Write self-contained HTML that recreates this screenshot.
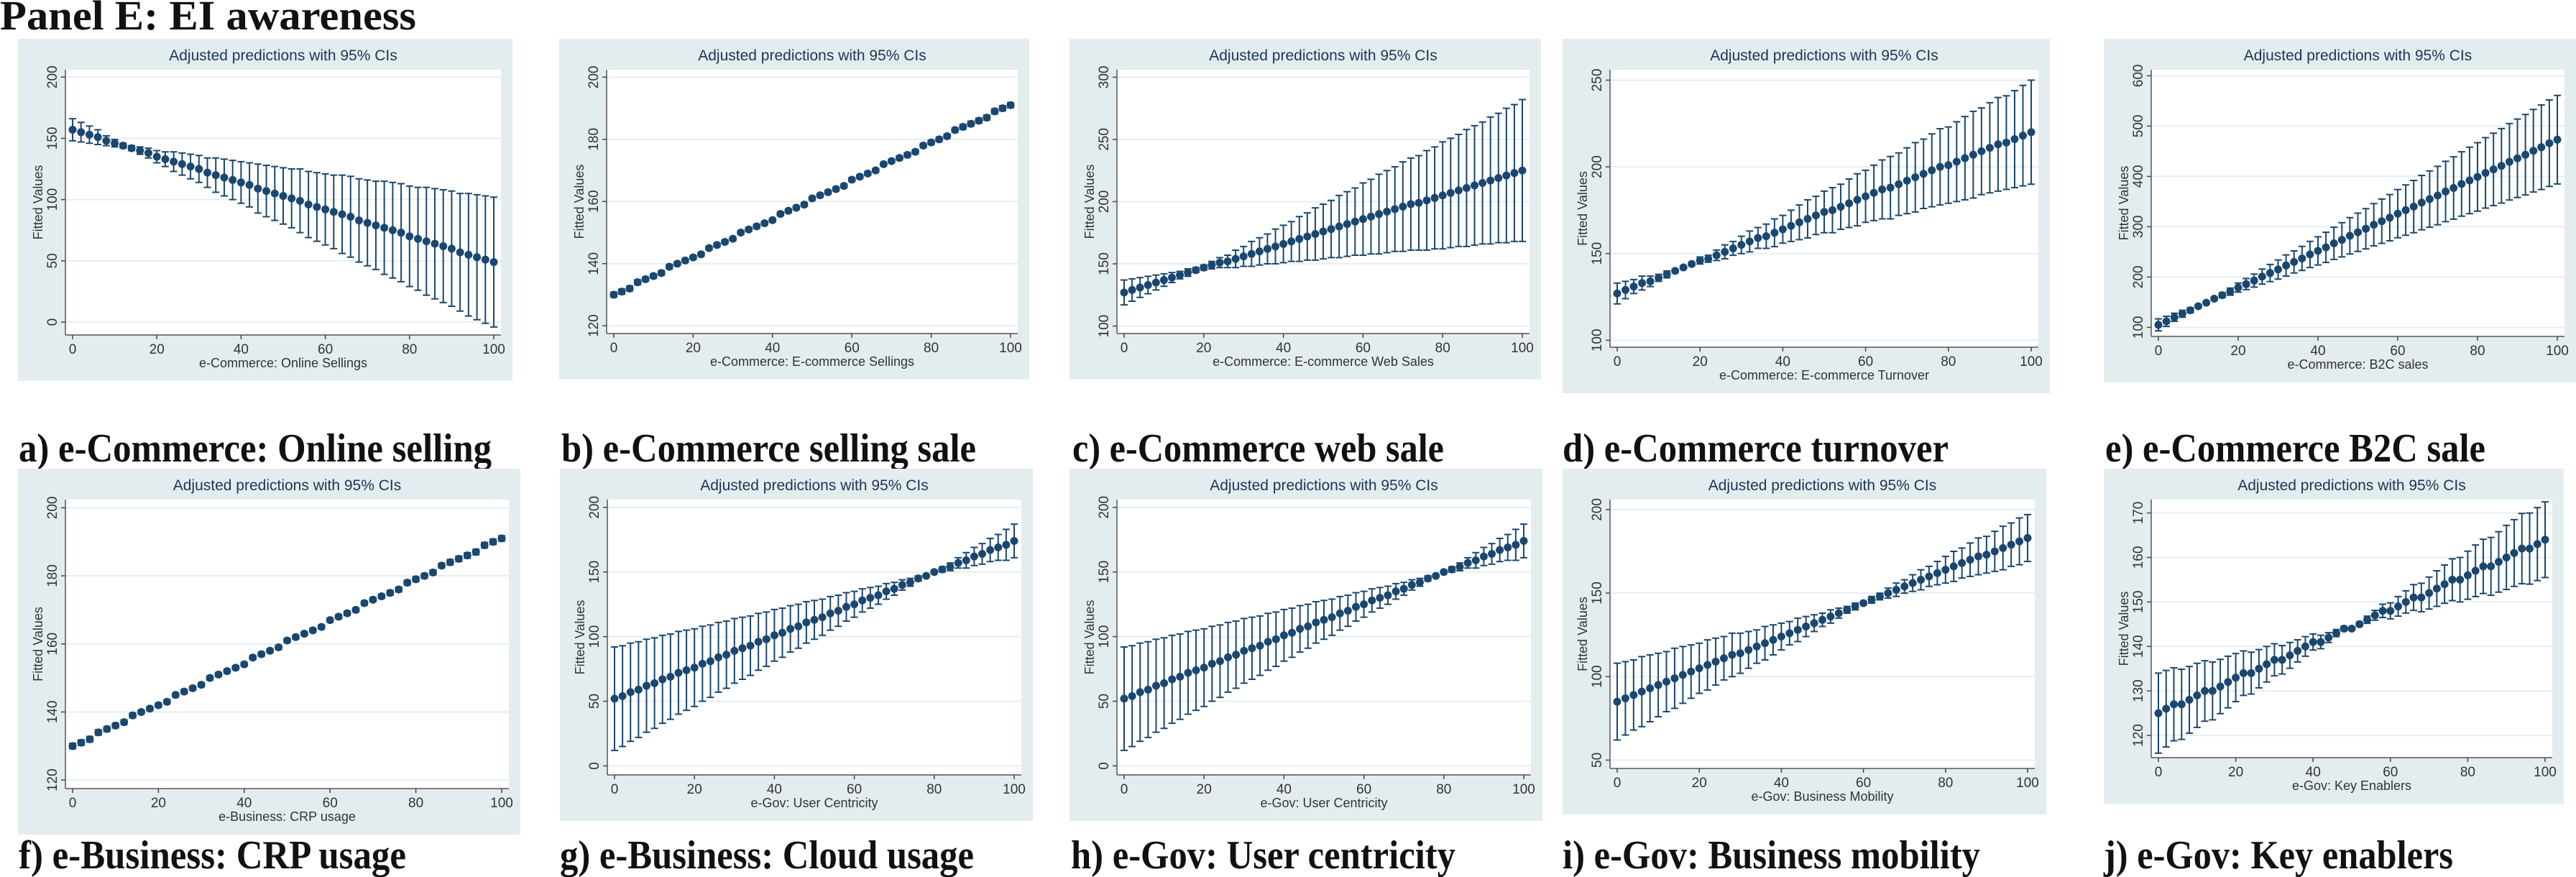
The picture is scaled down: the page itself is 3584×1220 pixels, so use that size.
<!DOCTYPE html>
<html><head><meta charset="utf-8"><title>Panel E: EI awareness</title>
<style>
html,body{margin:0;padding:0;background:#fff;}
svg{display:block;}
.cap{font-family:"Liberation Serif",serif;font-weight:bold;fill:#111;}
.ttl{font-family:"Liberation Sans",sans-serif;fill:#1f3554;}
.tk{font-family:"Liberation Sans",sans-serif;fill:#333;}
</style></head>
<body>
<svg id="fig" xmlns="http://www.w3.org/2000/svg" width="3584" height="1220" viewBox="0 0 3584 1220">
<text class="cap" x="0" y="41" font-size="58" textLength="579" lengthAdjust="spacingAndGlyphs">Panel E: EI awareness</text>
</svg>
<script>
// x values shared by all panels
const xVals = [0,2,4,6,8,10,12,14,16,18,20,22,24,26,28,30,32,34,36,38,40,42,44,46,48,50,52,54,56,58,60,62,64,66,68,70,72,74,76,78,80,82,84,86,88,90,92,94,96,98,100];
const xTicks = [0,20,40,60,80,100];

// a) online selling
const fitA = [157,155,153,151,148,146,144,142,140,138,135,133,131,129,127,125,122,120,118,116,114,112,109,107,105,103,101,99,96,94,92,90,88,86,83,81,79,77,75,73,70,68,66,64,62,60,57,55,53,51,49];
const ciA = [9,8,7,6,4,3,2,2,3,4,5,6,8,9,10,11,12,14,15,16,17,18,20,21,22,23,24,26,27,28,29,30,32,33,34,35,36,38,39,40,41,42,44,45,46,47,48,50,51,52,53];
const ticksA = [0,50,100,150,200];
// b) selling sale
const fitB = [130,131,132,134,135,136,137,139,140,141,142,143,145,146,147,148,150,151,152,153,154,156,157,158,159,161,162,163,164,165,167,168,169,170,172,173,174,175,176,178,179,180,181,183,184,185,186,187,189,190,191];
const ciB = [0.8,0.8,0.8,0.8,0.7,0.7,0.7,0.7,0.6,0.6,0.6,0.6,0.6,0.6,0.6,0.6,0.6,0.6,0.6,0.6,0.6,0.6,0.6,0.6,0.6,0.6,0.6,0.6,0.6,0.6,0.6,0.6,0.6,0.6,0.6,0.6,0.6,0.7,0.7,0.7,0.7,0.7,0.7,0.7,0.8,0.8,0.8,0.8,0.8,0.8,0.8];
const ticksB = [120,140,160,180,200];
// c) web sale
const fitC = [127,129,131,133,135,137,139,141,143,145,147,149,151,152,154,156,158,160,162,164,166,168,170,172,174,176,178,180,182,184,186,188,190,192,194,196,198,199,201,203,205,207,209,211,213,215,217,219,221,223,225];
const ciC = [10,9,8,7,6,5,4,3,3,2,2,3,4,5,7,8,10,11,12,14,15,16,18,19,21,22,23,25,26,27,29,30,32,33,34,36,37,38,40,41,43,44,45,47,48,49,51,52,54,55,57];
const ticksC = [100,150,200,250,300];
// d) turnover
const fitD = [127,129,131,133,134,136,138,140,142,144,146,147,149,151,153,155,157,159,160,162,164,166,168,170,172,174,175,177,179,181,183,185,187,188,190,192,194,196,198,200,201,203,205,207,209,211,213,214,216,218,220];
const ciD = [6,5,4,4,3,2,2,1,1,1,2,2,3,4,4,5,6,6,7,8,8,9,10,11,11,12,13,13,14,15,15,16,17,18,18,19,20,20,21,22,22,23,24,25,25,26,27,27,28,29,30];
const ticksD = [100,150,200,250];
// e) B2C sale
const fitE = [105,112,120,127,134,142,149,157,164,171,179,186,193,201,208,215,223,230,237,245,252,259,267,274,282,289,296,304,311,318,326,333,340,348,355,362,370,377,385,392,399,407,414,421,429,436,443,451,458,466,473];
const ciE = [12,10,8,7,5,3,2,3,5,7,9,11,13,15,17,19,21,22,24,26,28,30,32,34,36,38,40,42,44,46,48,50,52,54,56,58,60,62,64,66,68,70,72,74,76,78,80,82,84,86,88];
const ticksE = [100,200,300,400,500,600];
// f) CRP usage
const fitF = [130,131,132,134,135,136,137,139,140,141,142,143,145,146,147,148,150,151,152,153,154,156,157,158,159,161,162,163,164,165,167,168,169,170,172,173,174,175,176,178,179,180,181,183,184,185,186,187,189,190,191];
const ciF = [0.8,0.8,0.8,0.8,0.7,0.7,0.7,0.7,0.6,0.6,0.6,0.6,0.6,0.6,0.6,0.6,0.6,0.6,0.6,0.6,0.6,0.6,0.6,0.6,0.6,0.6,0.6,0.6,0.6,0.6,0.6,0.6,0.6,0.6,0.6,0.6,0.6,0.7,0.7,0.7,0.7,0.7,0.7,0.7,0.8,0.8,0.8,0.8,0.8,0.8,0.8];
const ticksF = [120,140,160,180,200];
// g) cloud usage
const fitG = [52,54,57,59,62,64,67,69,72,74,76,79,81,84,86,89,91,93,96,98,101,103,106,108,111,113,115,118,120,123,125,128,130,132,135,137,140,142,145,147,150,152,154,157,159,162,164,167,169,171,174];
const ciG = [40,39,38,37,36,35,34,33,32,31,30,29,28,27,26,25,24,23,22,21,20,19,18,17,16,15,14,13,12,11,10,9,8,7,6,5,4,3,2,1,1,2,3,4,6,7,8,9,10,12,13];
const ticksG = [0,50,100,150,200];
// h) user centricity
const fitH = [52,54,57,59,62,64,67,69,72,74,76,79,81,84,86,89,91,93,96,98,101,103,106,108,111,113,115,118,120,123,125,128,130,132,135,137,140,142,145,147,150,152,154,157,159,162,164,167,169,171,174];
const ciH = [40,39,38,37,36,35,34,33,32,31,30,29,28,27,26,25,24,23,22,21,20,19,18,17,16,15,14,13,12,11,10,9,8,7,6,5,4,3,2,1,1,2,3,4,6,7,8,9,10,12,13];
const ticksH = [0,50,100,150,200];
// i) business mobility
const fitI = [85,87,89,91,93,95,97,99,101,103,105,107,109,111,113,114,116,118,120,122,124,126,128,130,132,134,136,138,140,142,144,146,148,150,152,154,156,158,160,162,164,166,168,170,172,173,175,177,179,181,183];
const ciI = [23,22,21,21,20,19,18,18,17,16,15,15,14,13,13,12,11,10,10,9,8,7,7,6,5,4,4,3,2,2,1,2,2,3,4,4,5,6,6,7,8,9,9,10,11,11,12,13,13,14,14];
const ticksI = [50,100,150,200];
// j) key enablers
const fitJ = [125,126,127,127,128,129,130,130,131,132,133,134,134,135,136,137,137,138,139,140,141,141,142,143,144,144,145,146,147,148,148,149,150,151,151,152,153,154,155,155,156,157,158,158,159,160,161,162,162,163,164];
const ciJ = [9,8.6,8.2,7.9,7.5,7.2,6.8,6.5,6.1,5.8,5.4,5,4.7,4.3,4,3.6,3.2,2.9,2.5,2.2,1.8,1.5,1.1,0.8,0.5,0.3,0.5,0.8,1.1,1.5,1.8,2.2,2.5,2.9,3.2,3.6,4,4.3,4.7,5,5.4,5.8,6.1,6.5,6.8,7.2,7.5,7.9,8,8.2,8.5];
const ticksJ = [120,130,140,150,160,170];

const NS = 'http://www.w3.org/2000/svg';
const svg = document.getElementById('fig');
function mk(tag, attrs, parent){
  const e = document.createElementNS(NS, tag);
  for (const k in attrs) e.setAttribute(k, attrs[k]);
  (parent||svg).appendChild(e);
  return e;
}

const panels = [
 {id:'a', bx:25, by:54, bw:688, bh:476, ymin:-10.5, ymax:206, fit:fitA, ci:ciA, ticks:ticksA, xl:'e-Commerce: Online Sellings', cap:'a) e-Commerce: Online selling', cx:26, cy:642, cw:658},
 {id:'b', bx:778, by:54, bw:654, bh:474, ymin:117.5, ymax:202.4, fit:fitB, ci:ciB, ticks:ticksB, xl:'e-Commerce: E-commerce Sellings', cap:'b) e-Commerce selling sale', cx:781, cy:642, cw:577},
 {id:'c', bx:1488, by:54, bw:656, bh:474, ymin:94, ymax:306, fit:fitC, ci:ciC, ticks:ticksC, xl:'e-Commerce: E-commerce Web Sales', cap:'c) e-Commerce web sale', cx:1492, cy:642, cw:517},
 {id:'d', bx:2174, by:54, bw:678, bh:493, ymin:96, ymax:256, fit:fitD, ci:ciD, ticks:ticksD, xl:'e-Commerce: E-commerce Turnover', cap:'d) e-Commerce turnover', cx:2174, cy:642, cw:537},
 {id:'e', bx:2927, by:54, bw:657, bh:478, ymin:82, ymax:612, fit:fitE, ci:ciE, ticks:ticksE, xl:'e-Commerce: B2C sales', cap:'e) e-Commerce B2C sale', cx:2929, cy:642, cw:529},
 {id:'f', bx:25, by:652, bw:699, bh:509, ymin:117.5, ymax:202.4, fit:fitF, ci:ciF, ticks:ticksF, xl:'e-Business: CRP usage', cap:'f) e-Business: CRP usage', cx:26, cy:1208, cw:539},
 {id:'g', bx:779, by:652, bw:658, bh:490, ymin:-7, ymax:206, fit:fitG, ci:ciG, ticks:ticksG, xl:'e-Gov: User Centricity', cap:'g) e-Business: Cloud usage', cx:779, cy:1208, cw:576},
 {id:'h', bx:1488, by:652, bw:658, bh:490, ymin:-7, ymax:206, fit:fitH, ci:ciH, ticks:ticksH, xl:'e-Gov: User Centricity', cap:'h) e-Gov: User centricity', cx:1490, cy:1208, cw:535},
 {id:'i', bx:2174, by:652, bw:673, bh:481, ymin:45, ymax:206, fit:fitI, ci:ciI, ticks:ticksI, xl:'e-Gov: Business Mobility', cap:'i) e-Gov: Business mobility', cx:2174, cy:1208, cw:581},
 {id:'j', bx:2927, by:652, bw:640, bh:466, ymin:115, ymax:173, fit:fitJ, ci:ciJ, ticks:ticksJ, xl:'e-Gov: Key Enablers', cap:'j) e-Gov: Key enablers', cx:2927, cy:1208, cw:486}
];

panels.forEach(p => {
  const g = mk('g', {});
  
  
  const bg = mk('rect', {x:p.bx, y:p.by, width:p.bw, height:p.bh, fill:'#e3edef'}, g);
  
  
  const L = p.bx + 66, R = p.bx + p.bw - 16, T = p.by + 43, B = p.by + p.bh - 64;
  const pa = mk('rect', {x:L, y:T, width:R-L, height:B-T, fill:'#fff'}, g);
  
  
  const xs = v => L + 10 + (R - L - 20) * v / 100;
  const ys = v => B - (B - T) * (v - p.ymin) / (p.ymax - p.ymin);
  const t = mk('text', {x:(L+R)/2, y:p.by + 30, 'text-anchor':'middle', 'font-size':21, class:'ttl'}, g);
  t.textContent = 'Adjusted predictions with 95% CIs';
  
  
  p.ticks.forEach(v => {
    const y = ys(v);
    const gl = mk('line', {x1:L, x2:R, y1:y, y2:y, stroke:'#e6eef0', 'stroke-width':2}, g);
    
    
    mk('line', {x1:L-6, x2:L, y1:y, y2:y, stroke:'#444', 'stroke-width':1.5}, g);
    const tl = mk('text', {x:0, y:0, transform:`translate(${L-12},${y}) rotate(-90)`, 'text-anchor':'middle', 'font-size':19, class:'tk'}, g);
    tl.textContent = String(v);
    
    
  });
  const ya = mk('line', {x1:L, x2:L, y1:T, y2:B, stroke:'#555', 'stroke-width':1.5}, g);
  
  
  const xa = mk('line', {x1:L, x2:R, y1:B, y2:B, stroke:'#555', 'stroke-width':1.5}, g);
  
  
  xTicks.forEach(v => {
    const x = xs(v);
    mk('line', {x1:x, x2:x, y1:B, y2:B+6, stroke:'#444', 'stroke-width':1.5}, g);
    const tl = mk('text', {x:x, y:B + 26, 'text-anchor':'middle', 'font-size':19, class:'tk'}, g);
    tl.textContent = String(v);
    
    
  });
  const xt = mk('text', {x:(L+R)/2, y:B + 45, 'text-anchor':'middle', 'font-size':18, class:'tk'}, g);
  xt.textContent = p.xl;
  
  
  const yt = mk('text', {x:0, y:0, transform:`translate(${p.bx+34},${(T+B)/2}) rotate(-90)`, 'text-anchor':'middle', 'font-size':18, class:'tk'}, g);
  yt.textContent = 'Fitted Values';
  
  
  xVals.forEach((xv, i) => {
    const x = xs(xv), f = p.fit[i], h = p.ci[i];
    const yh = ys(f + h), yl = ys(f - h);
    const eb = mk('path', {d:`M${x},${yh}V${yl}M${x-5},${yh}H${x+5}M${x-5},${yl}H${x+5}`, stroke:'#1a476f', 'stroke-width':2, fill:'none'}, g);
    
    
  });
  xVals.forEach((xv, i) => {
    const c = mk('circle', {cx:xs(xv), cy:ys(p.fit[i]), r:5.5, fill:'#1a476f'}, g);
    
    
  });
  const cap = mk('text', {x:p.cx, y:p.cy, 'font-size':56, class:'cap', textLength:p.cw, lengthAdjust:'spacingAndGlyphs'});
  cap.textContent = p.cap;
  
  
});
</script>
</body></html>
